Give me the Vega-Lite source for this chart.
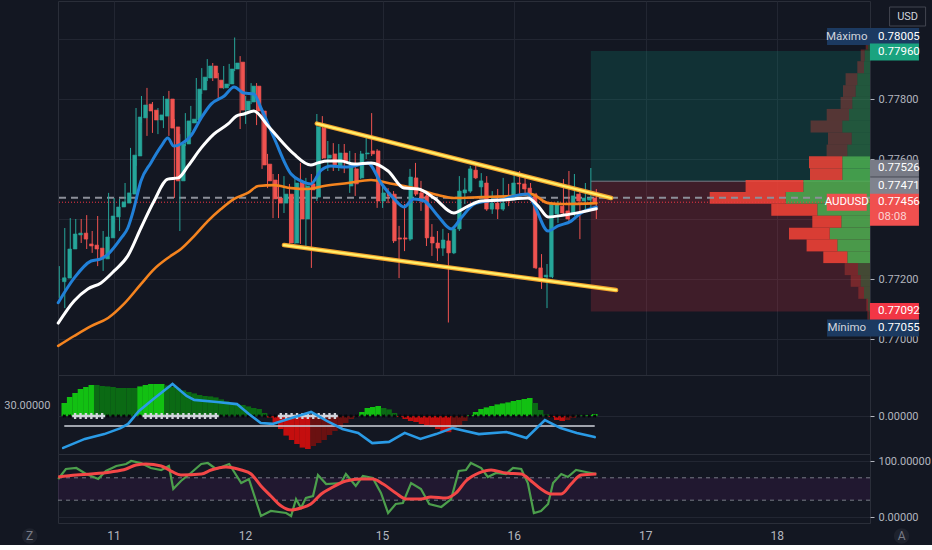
{
"$schema": "https://vega.github.io/schema/vega-lite/v6.json",
"background": "#131722",
"padding": 0,
"spacing": 0,
"bounds": "flush",
"config": {
 "view": {"stroke": "#2a2e39", "strokeWidth": 1},
 "axis": {"labelFont": "Roboto, Liberation Sans, sans-serif", "labelFontSize": 11, "labelColor": "#b2b5be", "gridColor": "#222632", "gridWidth": 1, "domain": false, "tickColor": "#b2b5be"},
 "text": {"font": "Roboto, Liberation Sans, sans-serif", "fontSize": 11.5},
 "concat": {"spacing": 0}
},
"datasets": {
 "candles": [
{"i":0,"o":0.77191,"h":0.77243,"l":0.77137,"c":0.77204},{"i":1,"o":0.77203,"h":0.7737,"l":0.77103,"c":0.773},{"i":2,"o":0.773,"h":0.77403,"l":0.7727,"c":0.7735},{"i":3,"o":0.77347,"h":0.774,"l":0.77317,"c":0.77353},{"i":4,"o":0.77353,"h":0.774,"l":0.7732,"c":0.77333},{"i":5,"o":0.77317,"h":0.77413,"l":0.773,"c":0.7731},{"i":6,"o":0.77313,"h":0.7736,"l":0.77287,"c":0.773},{"i":7,"o":0.77303,"h":0.7741,"l":0.77243,"c":0.77267},{"i":8,"o":0.77267,"h":0.7736,"l":0.77227,"c":0.7734},{"i":9,"o":0.77337,"h":0.77487,"l":0.77333,"c":0.7741},
{"i":10,"o":0.77407,"h":0.7747,"l":0.77387,"c":0.7744},{"i":11,"o":0.7744,"h":0.77467,"l":0.7736,"c":0.77457},{"i":12,"o":0.77453,"h":0.7752,"l":0.77443,"c":0.77487},{"i":13,"o":0.77483,"h":0.77637,"l":0.77477,"c":0.77613},{"i":14,"o":0.7761,"h":0.7777,"l":0.77577,"c":0.7774},{"i":15,"o":0.77737,"h":0.7781,"l":0.7772,"c":0.7778},{"i":16,"o":0.77783,"h":0.77837,"l":0.77677,"c":0.7776},{"i":17,"o":0.77763,"h":0.7779,"l":0.77687,"c":0.7773},{"i":18,"o":0.7773,"h":0.7777,"l":0.77683,"c":0.77747},{"i":19,"o":0.77743,"h":0.7781,"l":0.77703,"c":0.778},
{"i":20,"o":0.778,"h":0.77827,"l":0.77677,"c":0.77703},{"i":21,"o":0.77707,"h":0.77733,"l":0.7747,"c":0.77527},{"i":22,"o":0.77527,"h":0.77683,"l":0.7736,"c":0.7765},{"i":23,"o":0.7765,"h":0.77753,"l":0.77643,"c":0.77727},{"i":24,"o":0.7772,"h":0.77777,"l":0.77693,"c":0.77733},{"i":25,"o":0.7773,"h":0.7787,"l":0.7772,"c":0.77833},{"i":26,"o":0.7783,"h":0.77903,"l":0.77817,"c":0.77873},{"i":27,"o":0.7787,"h":0.77933,"l":0.7786,"c":0.7791},{"i":28,"o":0.7791,"h":0.7792,"l":0.7786,"c":0.7787},{"i":29,"o":0.77863,"h":0.77887,"l":0.77803,"c":0.77837},
{"i":30,"o":0.77837,"h":0.7791,"l":0.77833,"c":0.7785},{"i":31,"o":0.7785,"h":0.77917,"l":0.77843,"c":0.779},{"i":32,"o":0.779,"h":0.78005,"l":0.77893,"c":0.7792},{"i":33,"o":0.77923,"h":0.77943,"l":0.777,"c":0.77763},{"i":34,"o":0.77763,"h":0.7781,"l":0.77717,"c":0.77793},{"i":35,"o":0.7779,"h":0.77853,"l":0.77783,"c":0.77843},{"i":36,"o":0.77843,"h":0.77853,"l":0.77713,"c":0.7776},{"i":37,"o":0.7776,"h":0.77767,"l":0.77567,"c":0.7758},{"i":38,"o":0.77583,"h":0.77617,"l":0.77503,"c":0.77527},{"i":39,"o":0.7753,"h":0.7755,"l":0.77403,"c":0.77467},
{"i":40,"o":0.7747,"h":0.7755,"l":0.77403,"c":0.77453},{"i":41,"o":0.77453,"h":0.77543,"l":0.7742,"c":0.77483},{"i":42,"o":0.77483,"h":0.77517,"l":0.7731,"c":0.7732},{"i":43,"o":0.7732,"h":0.77533,"l":0.77317,"c":0.7752},{"i":44,"o":0.7752,"h":0.77587,"l":0.77317,"c":0.774},{"i":45,"o":0.774,"h":0.77537,"l":0.7731,"c":0.7751},{"i":46,"o":0.77517,"h":0.7755,"l":0.77237,"c":0.77497},{"i":47,"o":0.77473,"h":0.7775,"l":0.7746,"c":0.77707},{"i":48,"o":0.77703,"h":0.77743,"l":0.776,"c":0.77603},{"i":49,"o":0.77603,"h":0.7766,"l":0.7756,"c":0.77613},
{"i":50,"o":0.77617,"h":0.77653,"l":0.7756,"c":0.77577},{"i":51,"o":0.77577,"h":0.7765,"l":0.7756,"c":0.7762},{"i":52,"o":0.7762,"h":0.7765,"l":0.77553,"c":0.77593},{"i":53,"o":0.7751,"h":0.77627,"l":0.77487,"c":0.77583},{"i":54,"o":0.77567,"h":0.7762,"l":0.77477,"c":0.77517},{"i":55,"o":0.77537,"h":0.77627,"l":0.77533,"c":0.77617},{"i":56,"o":0.77617,"h":0.77683,"l":0.776,"c":0.7762},{"i":57,"o":0.77627,"h":0.77753,"l":0.7761,"c":0.77617},{"i":58,"o":0.77627,"h":0.77633,"l":0.77437,"c":0.7746},{"i":59,"o":0.7746,"h":0.7751,"l":0.77437,"c":0.77487},
{"i":60,"o":0.77487,"h":0.77503,"l":0.77453,"c":0.77477},{"i":61,"o":0.77483,"h":0.77493,"l":0.7732,"c":0.77327},{"i":62,"o":0.77337,"h":0.77377,"l":0.77203,"c":0.77333},{"i":63,"o":0.77337,"h":0.7745,"l":0.77293,"c":0.77333},{"i":64,"o":0.77333,"h":0.77567,"l":0.77327,"c":0.7754},{"i":65,"o":0.77537,"h":0.77587,"l":0.77477,"c":0.77483},{"i":66,"o":0.77487,"h":0.77527,"l":0.77427,"c":0.7747},{"i":67,"o":0.77477,"h":0.77483,"l":0.7731,"c":0.77337},{"i":68,"o":0.7734,"h":0.77383,"l":0.77277,"c":0.7732},{"i":69,"o":0.7732,"h":0.7736,"l":0.7726,"c":0.77303},
{"i":70,"o":0.77303,"h":0.77367,"l":0.77277,"c":0.7733},{"i":71,"o":0.77327,"h":0.77353,"l":0.77055,"c":0.77287},{"i":72,"o":0.77287,"h":0.77377,"l":0.77283,"c":0.77367},{"i":73,"o":0.77367,"h":0.77543,"l":0.7736,"c":0.77493},{"i":74,"o":0.77487,"h":0.77537,"l":0.7745,"c":0.77497},{"i":75,"o":0.77493,"h":0.77577,"l":0.77487,"c":0.77567},{"i":76,"o":0.77563,"h":0.77577,"l":0.77533,"c":0.77537},{"i":77,"o":0.77507,"h":0.77553,"l":0.77477,"c":0.77527},{"i":78,"o":0.7752,"h":0.77543,"l":0.77427,"c":0.77433},{"i":79,"o":0.77433,"h":0.77493,"l":0.77417,"c":0.77453},
{"i":80,"o":0.77453,"h":0.775,"l":0.774,"c":0.77433},{"i":81,"o":0.77433,"h":0.77537,"l":0.77427,"c":0.77453},{"i":82,"o":0.7747,"h":0.77517,"l":0.77443,"c":0.7746},{"i":83,"o":0.77477,"h":0.7755,"l":0.7747,"c":0.7752},{"i":84,"o":0.7752,"h":0.7756,"l":0.77477,"c":0.77517},{"i":85,"o":0.77517,"h":0.7755,"l":0.77477,"c":0.775},{"i":86,"o":0.77503,"h":0.7752,"l":0.7747,"c":0.77483},{"i":87,"o":0.77483,"h":0.77487,"l":0.77233,"c":0.77237},{"i":88,"o":0.77237,"h":0.77283,"l":0.77167,"c":0.77203},{"i":89,"o":0.77207,"h":0.7725,"l":0.77103,"c":0.77213},
{"i":90,"o":0.77207,"h":0.77453,"l":0.77203,"c":0.7745},{"i":91,"o":0.77417,"h":0.7746,"l":0.77387,"c":0.7745},{"i":92,"o":0.77443,"h":0.77533,"l":0.7741,"c":0.7742},{"i":93,"o":0.77427,"h":0.7756,"l":0.77387,"c":0.774},{"i":94,"o":0.7742,"h":0.7755,"l":0.7741,"c":0.77477},{"i":95,"o":0.77483,"h":0.775,"l":0.77333,"c":0.7746},{"i":96,"o":0.7746,"h":0.7752,"l":0.77427,"c":0.7747},{"i":97,"o":0.77463,"h":0.7757,"l":0.77427,"c":0.7747},{"i":98,"o":0.7747,"h":0.775,"l":0.774,"c":0.77456}
 ],
 "ema": [
{"s":"fast","i":-0.2,"p":0.77121},{"s":"fast","i":2.7,"p":0.77203},{"s":"fast","i":5.8,"p":0.7726},{"s":"fast","i":7.6,"p":0.77267},{"s":"fast","i":8.9,"p":0.77283},{"s":"fast","i":11.3,"p":0.77337},{"s":"fast","i":12.5,"p":0.7737},{"s":"fast","i":13.5,"p":0.77427},{"s":"fast","i":14.9,"p":0.77527},{"s":"fast","i":16.7,"p":0.77587},{"s":"fast","i":18.6,"p":0.77643},{"s":"fast","i":19.8,"p":0.7767},{"s":"fast","i":20.9,"p":0.77643},{"s":"fast","i":22.2,"p":0.7765},{"s":"fast","i":24.0,"p":0.77677},{"s":"fast","i":25.9,"p":0.77737},{"s":"fast","i":27.7,"p":0.77783},{"s":"fast","i":30.1,"p":0.7781},{"s":"fast","i":31.9,"p":0.7784},{"s":"fast","i":33.7,"p":0.7782},{"s":"fast","i":35.5,"p":0.77817},{"s":"fast","i":36.8,"p":0.7777},{"s":"fast","i":39.2,"p":0.7767},{"s":"fast","i":42.3,"p":0.7755},{"s":"fast","i":44.1,"p":0.77527},{"s":"fast","i":45.9,"p":0.77517},{"s":"fast","i":47.8,"p":0.77563},{"s":"fast","i":49.6,"p":0.77577},{"s":"fast","i":52.0,"p":0.77573},{"s":"fast","i":53.8,"p":0.77577},{"s":"fast","i":56.3,"p":0.77587},{"s":"fast","i":58.7,"p":0.7752},{"s":"fast","i":61.1,"p":0.77467},{"s":"fast","i":62.9,"p":0.7744},{"s":"fast","i":64.7,"p":0.77467},{"s":"fast","i":66.6,"p":0.7746},{"s":"fast","i":69.1,"p":0.7741},{"s":"fast","i":71.5,"p":0.77367},{"s":"fast","i":73.3,"p":0.77403},{"s":"fast","i":75.7,"p":0.7745},{"s":"fast","i":78.2,"p":0.7746},{"s":"fast","i":80.6,"p":0.77463},{"s":"fast","i":83.0,"p":0.77477},{"s":"fast","i":85.5,"p":0.77483},{"s":"fast","i":86.6,"p":0.7745},{"s":"fast","i":89.2,"p":0.7736},{"s":"fast","i":91.0,"p":0.77377},{"s":"fast","i":93.4,"p":0.77393},{"s":"fast","i":95.2,"p":0.7742},{"s":"fast","i":98,"p":0.7744},
{"s":"mid","i":-0.2,"p":0.77053},{"s":"mid","i":2.7,"p":0.77127},{"s":"mid","i":5.2,"p":0.77167},{"s":"mid","i":7.6,"p":0.77187},{"s":"mid","i":10.0,"p":0.77227},{"s":"mid","i":12.5,"p":0.77277},{"s":"mid","i":14.9,"p":0.7737},{"s":"mid","i":17.3,"p":0.7746},{"s":"mid","i":19.8,"p":0.77533},{"s":"mid","i":21.7,"p":0.77537},{"s":"mid","i":23.5,"p":0.77577},{"s":"mid","i":25.9,"p":0.77637},{"s":"mid","i":28.2,"p":0.77683},{"s":"mid","i":30.8,"p":0.77717},{"s":"mid","i":32.3,"p":0.77743},{"s":"mid","i":33.7,"p":0.7775},{"s":"mid","i":35.5,"p":0.7776},{"s":"mid","i":38.1,"p":0.7771},{"s":"mid","i":40.5,"p":0.7766},{"s":"mid","i":42.8,"p":0.77617},{"s":"mid","i":45.9,"p":0.7758},{"s":"mid","i":47.2,"p":0.77587},{"s":"mid","i":49.0,"p":0.77593},{"s":"mid","i":51.4,"p":0.77593},{"s":"mid","i":53.8,"p":0.77583},{"s":"mid","i":56.9,"p":0.77587},{"s":"mid","i":60.0,"p":0.7756},{"s":"mid","i":62.9,"p":0.77503},{"s":"mid","i":65.5,"p":0.775},{"s":"mid","i":68.4,"p":0.7747},{"s":"mid","i":72.0,"p":0.7742},{"s":"mid","i":74.6,"p":0.77443},{"s":"mid","i":77.0,"p":0.7746},{"s":"mid","i":80.6,"p":0.77463},{"s":"mid","i":83.0,"p":0.77467},{"s":"mid","i":85.5,"p":0.7747},{"s":"mid","i":87.4,"p":0.77443},{"s":"mid","i":89.2,"p":0.77407},{"s":"mid","i":92.1,"p":0.77413},{"s":"mid","i":95.2,"p":0.77423},{"s":"mid","i":98,"p":0.77434},
{"s":"slow","i":-0.2,"p":0.76977},{"s":"slow","i":2.7,"p":0.7701},{"s":"slow","i":5.8,"p":0.77043},{"s":"slow","i":8.9,"p":0.7707},{"s":"slow","i":11.8,"p":0.77117},{"s":"slow","i":14.9,"p":0.77183},{"s":"slow","i":17.3,"p":0.77233},{"s":"slow","i":19.8,"p":0.7727},{"s":"slow","i":22.2,"p":0.773},{"s":"slow","i":24.6,"p":0.77343},{"s":"slow","i":27.1,"p":0.77393},{"s":"slow","i":29.5,"p":0.77433},{"s":"slow","i":31.9,"p":0.77467},{"s":"slow","i":34.4,"p":0.77487},{"s":"slow","i":36.3,"p":0.7751},{"s":"slow","i":39.2,"p":0.77513},{"s":"slow","i":42.3,"p":0.77503},{"s":"slow","i":45.4,"p":0.775},{"s":"slow","i":48.3,"p":0.7751},{"s":"slow","i":52.7,"p":0.7752},{"s":"slow","i":56.9,"p":0.7753},{"s":"slow","i":60.0,"p":0.7752},{"s":"slow","i":64.7,"p":0.77503},{"s":"slow","i":69.1,"p":0.7748},{"s":"slow","i":72.0,"p":0.7747},{"s":"slow","i":77.0,"p":0.77473},{"s":"slow","i":83.0,"p":0.77477},{"s":"slow","i":86.1,"p":0.77483},{"s":"slow","i":89.2,"p":0.77453},{"s":"slow","i":92.1,"p":0.7745},{"s":"slow","i":98,"p":0.77453}
 ],
 "draw": [
{"id":"upper","i":47.0,"p":0.77718},{"id":"upper","i":100.7,"p":0.7747},
{"id":"lower","i":41.0,"p":0.77313},{"id":"lower","i":101.6,"p":0.77163}
 ],
 "pos": [
{"k":"tp","x0":97.0,"x1":150,"top":0.7796,"bot":0.77526},
{"k":"sl","x0":97.0,"x1":150,"top":0.77526,"bot":0.77092}
 ],
 "vp": [
{"hi":0.78005,"lo":0.77965,"b":20,"t":43,"va":"out"},{"hi":0.77965,"lo":0.77926,"b":53,"t":93,"va":"out"},{"hi":0.77926,"lo":0.77886,"b":60,"t":127,"va":"out"},{"hi":0.77886,"lo":0.77846,"b":127,"t":244,"va":"out"},{"hi":0.77846,"lo":0.77807,"b":143,"t":270,"va":"out"},{"hi":0.77807,"lo":0.77767,"b":177,"t":294,"va":"out"},{"hi":0.77767,"lo":0.77728,"b":210,"t":433,"va":"out"},{"hi":0.77728,"lo":0.77688,"b":277,"t":594,"va":"out"},{"hi":0.77688,"lo":0.77648,"b":183,"t":420,"va":"out"},{"hi":0.77648,"lo":0.77609,"b":227,"t":434,"va":"out"},
{"hi":0.77609,"lo":0.77569,"b":277,"t":610,"va":"in"},{"hi":0.77569,"lo":0.7753,"b":277,"t":600,"va":"in"},{"hi":0.7753,"lo":0.7749,"b":667,"t":1244,"va":"in"},{"hi":0.7749,"lo":0.77451,"b":843,"t":1603,"va":"in"},{"hi":0.77451,"lo":0.77411,"b":527,"t":987,"va":"in"},{"hi":0.77411,"lo":0.77371,"b":287,"t":577,"va":"in"},{"hi":0.77371,"lo":0.77332,"b":403,"t":810,"va":"in"},{"hi":0.77332,"lo":0.77292,"b":327,"t":634,"va":"in"},{"hi":0.77292,"lo":0.77253,"b":227,"t":467,"va":"in"},
{"hi":0.77253,"lo":0.77213,"b":120,"t":253,"va":"out"},{"hi":0.77213,"lo":0.77174,"b":93,"t":193,"va":"out"},{"hi":0.77174,"lo":0.77134,"b":60,"t":117,"va":"out"},{"hi":0.77134,"lo":0.77094,"b":20,"t":37,"va":"out"},{"hi":0.77094,"lo":0.77055,"b":7,"t":27,"va":"out"}
 ],
 "labels": [
{"k":"max","p":0.78005,"v":"0.78005","tag":"Máximo"},
{"k":"tp","p":0.7796,"v":"0.77960"},
{"k":"entry","p":0.77526,"v":"0.77526"},
{"k":"prev","p":0.77471,"v":"0.77471"},
{"k":"last","p":0.77456,"v":"0.77456","tag":"AUDUSD","cd":"08:08"},
{"k":"sl","p":0.77092,"v":"0.77092"},
{"k":"min","p":0.77055,"v":"0.77055","tag":"Mínimo"},
{"k":"unit","v":"USD"}
 ],
 "mom": [
{"i":0,"m":0.00065,"st":"rise","sq":"off"},{"i":1,"m":0.00095,"st":"rise","sq":"off"},{"i":2,"m":0.00115,"st":"rise","sq":"on"},{"i":3,"m":0.00135,"st":"rise","sq":"on"},{"i":4,"m":0.00145,"st":"rise","sq":"on"},{"i":5,"m":0.00155,"st":"rise","sq":"on"},{"i":6,"m":0.00155,"st":"fall","sq":"on"},{"i":7,"m":0.0015,"st":"fall","sq":"on"},{"i":8,"m":0.00148,"st":"fall","sq":"off"},{"i":9,"m":0.00145,"st":"fall","sq":"off"},
{"i":10,"m":0.0014,"st":"fall","sq":"off"},{"i":11,"m":0.0014,"st":"fall","sq":"off"},{"i":12,"m":0.0014,"st":"fall","sq":"off"},{"i":13,"m":0.0014,"st":"fall","sq":"off"},{"i":14,"m":0.00148,"st":"rise","sq":"off"},{"i":15,"m":0.00155,"st":"rise","sq":"on"},{"i":16,"m":0.0016,"st":"rise","sq":"on"},{"i":17,"m":0.0016,"st":"rise","sq":"on"},{"i":18,"m":0.0016,"st":"rise","sq":"on"},{"i":19,"m":0.00153,"st":"fall","sq":"on"},
{"i":20,"m":0.00145,"st":"fall","sq":"on"},{"i":21,"m":0.00138,"st":"fall","sq":"on"},{"i":22,"m":0.00128,"st":"fall","sq":"on"},{"i":23,"m":0.0012,"st":"fall","sq":"on"},{"i":24,"m":0.00113,"st":"fall","sq":"on"},{"i":25,"m":0.00105,"st":"fall","sq":"on"},{"i":26,"m":0.001,"st":"fall","sq":"on"},{"i":27,"m":0.00098,"st":"fall","sq":"on"},{"i":28,"m":0.00093,"st":"fall","sq":"on"},{"i":29,"m":0.00083,"st":"fall","sq":"off"},
{"i":30,"m":0.00073,"st":"fall","sq":"off"},{"i":31,"m":0.00065,"st":"fall","sq":"off"},{"i":32,"m":0.0006,"st":"fall","sq":"off"},{"i":33,"m":0.00055,"st":"fall","sq":"off"},{"i":34,"m":0.00048,"st":"fall","sq":"off"},{"i":35,"m":0.0004,"st":"fall","sq":"off"},{"i":36,"m":0.00035,"st":"fall","sq":"off"},{"i":37,"m":0.00015,"st":"fall","sq":"off"},{"i":38,"m":-0.00008,"st":"drop","sq":"off"},{"i":39,"m":-0.00035,"st":"drop","sq":"off"},
{"i":40,"m":-0.00065,"st":"drop","sq":"on"},{"i":41,"m":-0.00098,"st":"drop","sq":"on"},{"i":42,"m":-0.0012,"st":"drop","sq":"on"},{"i":43,"m":-0.0014,"st":"drop","sq":"on"},{"i":44,"m":-0.00158,"st":"drop","sq":"on"},{"i":45,"m":-0.00165,"st":"drop","sq":"on"},{"i":46,"m":-0.0015,"st":"recover","sq":"on"},{"i":47,"m":-0.00135,"st":"recover","sq":"on"},{"i":48,"m":-0.0012,"st":"recover","sq":"on"},{"i":49,"m":-0.00095,"st":"recover","sq":"on"},
{"i":50,"m":-0.00075,"st":"recover","sq":"on"},{"i":51,"m":-0.00055,"st":"recover","sq":"off"},{"i":52,"m":-0.00035,"st":"recover","sq":"off"},{"i":53,"m":-0.00015,"st":"recover","sq":"off"},{"i":54,"m":-0.00002,"st":"recover","sq":"off"},{"i":55,"m":0.0002,"st":"rise","sq":"off"},{"i":56,"m":0.0004,"st":"rise","sq":"off"},{"i":57,"m":0.00045,"st":"rise","sq":"off"},{"i":58,"m":0.0005,"st":"rise","sq":"off"},{"i":59,"m":0.0004,"st":"fall","sq":"off"},
{"i":60,"m":0.00033,"st":"fall","sq":"off"},{"i":61,"m":0.00015,"st":"fall","sq":"off"},{"i":62,"m":-0.00005,"st":"drop","sq":"off"},{"i":63,"m":-0.00015,"st":"drop","sq":"off"},{"i":64,"m":-0.00025,"st":"drop","sq":"off"},{"i":65,"m":-0.0003,"st":"drop","sq":"off"},{"i":66,"m":-0.0004,"st":"drop","sq":"off"},{"i":67,"m":-0.00048,"st":"drop","sq":"off"},{"i":68,"m":-0.00055,"st":"drop","sq":"off"},{"i":69,"m":-0.00065,"st":"drop","sq":"off"},
{"i":70,"m":-0.0008,"st":"drop","sq":"off"},{"i":71,"m":-0.00081,"st":"drop","sq":"off"},{"i":72,"m":-0.0006,"st":"recover","sq":"off"},{"i":73,"m":-0.00045,"st":"recover","sq":"off"},{"i":74,"m":-0.00025,"st":"recover","sq":"off"},{"i":75,"m":0.00005,"st":"rise","sq":"off"},{"i":76,"m":0.0002,"st":"rise","sq":"off"},{"i":77,"m":0.00035,"st":"rise","sq":"off"},{"i":78,"m":0.00043,"st":"rise","sq":"off"},{"i":79,"m":0.0005,"st":"rise","sq":"off"},
{"i":80,"m":0.00058,"st":"rise","sq":"off"},{"i":81,"m":0.00063,"st":"rise","sq":"off"},{"i":82,"m":0.00068,"st":"rise","sq":"off"},{"i":83,"m":0.00075,"st":"rise","sq":"off"},{"i":84,"m":0.0008,"st":"rise","sq":"off"},{"i":85,"m":0.00085,"st":"rise","sq":"off"},{"i":86,"m":0.0009,"st":"rise","sq":"off"},{"i":87,"m":0.00065,"st":"fall","sq":"off"},{"i":88,"m":0.0003,"st":"fall","sq":"off"},{"i":89,"m":0.00008,"st":"fall","sq":"off"},
{"i":90,"m":-0.00005,"st":"drop","sq":"off"},{"i":91,"m":-0.0002,"st":"drop","sq":"off"},{"i":92,"m":-0.00025,"st":"drop","sq":"off"},{"i":93,"m":-0.0002,"st":"recover","sq":"off"},{"i":94,"m":-0.0001,"st":"recover","sq":"off"},{"i":95,"m":0.00002,"st":"rise","sq":"off"},{"i":96,"m":0.00003,"st":"rise","sq":"off"},{"i":97,"m":0.00005,"st":"rise","sq":"off"},{"i":98,"m":0.0001,"st":"rise","sq":"off"}
 ],
 "adx": [
{"i":-0.2,"v":15.7},{"i":3.8,"v":18.7},{"i":7.4,"v":20.3},{"i":10.4,"v":22.3},{"i":11.8,"v":23.7},{"i":13.8,"v":28},{"i":16.7,"v":32.3},{"i":20,"v":37},{"i":22.6,"v":33},{"i":24,"v":31.7},{"i":28.2,"v":31},{"i":31.9,"v":30.3},{"i":34.1,"v":27},{"i":36.3,"v":24},{"i":38.5,"v":23.7},{"i":41.4,"v":25.3},{"i":45.6,"v":27.7},{"i":48.5,"v":24.7},{"i":51.4,"v":22},{"i":54.3,"v":20.7},{"i":56.9,"v":17.3},{"i":60,"v":17.7},{"i":62.9,"v":20.7},{"i":65.8,"v":18.7},{"i":68.7,"v":20.3},{"i":71.7,"v":22.3},{"i":76.6,"v":20.3},{"i":81.7,"v":21},{"i":85.4,"v":19},{"i":88.8,"v":25},{"i":91.7,"v":22.3},{"i":94.7,"v":20.7},{"i":98,"v":19.3}
 ],
 "adxlvl": [{"v":23,"i0":0,"i1":98}],
 "stoch": [
{"s":"K","i":-0.2,"v":67.9},{"s":"K","i":1.2,"v":85.7},{"s":"K","i":3.1,"v":87.5},{"s":"K","i":4.9,"v":76.8},{"s":"K","i":7.1,"v":67.9},{"s":"K","i":8.5,"v":82.1},{"s":"K","i":10.4,"v":91.1},{"s":"K","i":12.2,"v":94.6},{"s":"K","i":13.1,"v":100},{"s":"K","i":14.9,"v":96.4},{"s":"K","i":16.7,"v":87.5},{"s":"K","i":18.6,"v":83.9},{"s":"K","i":20.0,"v":91.1},{"s":"K","i":20.8,"v":50},{"s":"K","i":22.2,"v":64.3},{"s":"K","i":24.0,"v":78.6},{"s":"K","i":25.9,"v":94.6},{"s":"K","i":27.1,"v":96.4},{"s":"K","i":28.6,"v":85.7},{"s":"K","i":31.0,"v":94.6},{"s":"K","i":33.2,"v":60.7},{"s":"K","i":34.6,"v":67.9},{"s":"K","i":36.8,"v":1.8},{"s":"K","i":38.6,"v":10.7},{"s":"K","i":41.4,"v":7.1},{"s":"K","i":42.3,"v":1.8},{"s":"K","i":43.2,"v":32.1},{"s":"K","i":44.1,"v":16.1},{"s":"K","i":45.0,"v":33.9},{"s":"K","i":46.3,"v":37.5},{"s":"K","i":47.2,"v":75},{"s":"K","i":48.7,"v":58.9},{"s":"K","i":51.4,"v":60.7},{"s":"K","i":52.3,"v":76.8},{"s":"K","i":54.1,"v":55.4},{"s":"K","i":55.4,"v":73.2},{"s":"K","i":57.2,"v":69.6},{"s":"K","i":58.7,"v":42.9},{"s":"K","i":60.0,"v":7.1},{"s":"K","i":61.4,"v":23.2},{"s":"K","i":62.7,"v":25},{"s":"K","i":64.2,"v":60.7},{"s":"K","i":66.0,"v":50},{"s":"K","i":67.5,"v":23.2},{"s":"K","i":69.7,"v":17.9},{"s":"K","i":71.5,"v":32.1},{"s":"K","i":72.9,"v":82.1},{"s":"K","i":74.2,"v":83.9},{"s":"K","i":75.1,"v":96.4},{"s":"K","i":77.0,"v":87.5},{"s":"K","i":78.2,"v":71.4},{"s":"K","i":79.7,"v":78.6},{"s":"K","i":81.5,"v":76.8},{"s":"K","i":82.8,"v":87.5},{"s":"K","i":84.3,"v":85.7},{"s":"K","i":85.5,"v":60.7},{"s":"K","i":86.6,"v":7.1},{"s":"K","i":87.9,"v":10.7},{"s":"K","i":89.2,"v":23.2},{"s":"K","i":90.1,"v":60.7},{"s":"K","i":91.6,"v":76.8},{"s":"K","i":92.8,"v":71.4},{"s":"K","i":94.3,"v":83.9},{"s":"K","i":96.1,"v":80.4},{"s":"K","i":98,"v":76.8},
{"s":"D","i":-0.2,"v":71.4},{"s":"D","i":3.1,"v":75},{"s":"D","i":5.8,"v":76.8},{"s":"D","i":9.4,"v":80.4},{"s":"D","i":12.2,"v":85.7},{"s":"D","i":14.0,"v":92.9},{"s":"D","i":15.8,"v":94.6},{"s":"D","i":18.6,"v":91.1},{"s":"D","i":20.4,"v":82.1},{"s":"D","i":22.2,"v":75},{"s":"D","i":25.9,"v":76.8},{"s":"D","i":27.7,"v":83.9},{"s":"D","i":30.4,"v":89.3},{"s":"D","i":33.2,"v":83.9},{"s":"D","i":35.0,"v":76.8},{"s":"D","i":36.8,"v":55.4},{"s":"D","i":38.6,"v":37.5},{"s":"D","i":40.5,"v":19.6},{"s":"D","i":42.3,"v":12.5},{"s":"D","i":44.1,"v":16.1},{"s":"D","i":45.9,"v":23.2},{"s":"D","i":47.8,"v":41.1},{"s":"D","i":49.6,"v":51.8},{"s":"D","i":52.3,"v":64.3},{"s":"D","i":55.1,"v":67.9},{"s":"D","i":57.2,"v":67.9},{"s":"D","i":59.1,"v":58.9},{"s":"D","i":61.4,"v":42.9},{"s":"D","i":63.3,"v":32.1},{"s":"D","i":66.0,"v":32.1},{"s":"D","i":67.8,"v":35.7},{"s":"D","i":70.6,"v":33.9},{"s":"D","i":72.4,"v":42.9},{"s":"D","i":74.2,"v":64.3},{"s":"D","i":76.6,"v":78.6},{"s":"D","i":78.8,"v":83.9},{"s":"D","i":81.5,"v":78.6},{"s":"D","i":84.3,"v":76.8},{"s":"D","i":86.1,"v":64.3},{"s":"D","i":87.9,"v":50},{"s":"D","i":89.7,"v":41.1},{"s":"D","i":91.6,"v":41.1},{"s":"D","i":93.4,"v":58.9},{"s":"D","i":95.2,"v":75},{"s":"D","i":98,"v":76.8}
 ],
 "stband": [{"lo":30,"hi":70,"i0":-0.237,"i1":147.94}],
 "stlvl": [{"v":70},{"v":30}],
 "days": [{"i":10,"d":"11"},{"i":34,"d":"12"},{"i":59,"d":"15"},{"i":83,"d":"16"},{"i":107,"d":"17"},{"i":131,"d":"18"}],
 "corner": [{"t":"Z"},{"t":"A"}]
},
"vconcat": [
 {
  "width": 812, "height": 374,
  "resolve": {"scale": {"x": "independent"}, "axis": {"x": "independent", "y": "independent"}},
  "layer": [
   {
    "data": {"name": "pos"},
    "mark": {"type": "rect", "clip": true, "opacity": 0.2},
    "encoding": {
     "x": {"field": "x0", "type": "quantitative", "scale": {"domain": [-0.237, 147.94], "nice": false, "zero": false}, "axis": null},
     "x2": {"field": "x1"},
     "y": {"field": "top", "type": "quantitative", "scale": {"domain": [0.7688, 0.781267], "nice": false, "zero": false}, "axis": null},
     "y2": {"field": "bot"},
     "color": {"condition": {"test": "datum.k == 'tp'", "value": "#089981"}, "value": "#f23645"}
    }
   },
   {
    "data": {"name": "pos"},
    "transform": [{"filter": "datum.k == 'sl'"}],
    "mark": {"type": "rule", "clip": true, "color": "#787b86", "strokeWidth": 1},
    "encoding": {
     "x": {"field": "x0", "type": "quantitative", "scale": {"domain": [-0.237, 147.94], "nice": false, "zero": false}, "axis": null},
     "x2": {"field": "x1"},
     "y": {"field": "top", "type": "quantitative", "axis": null}
    }
   },
   {
    "data": {"name": "vp"},
    "mark": {"type": "rect", "color": "#4caf50"},
    "encoding": {
     "x": {"field": "b", "type": "quantitative", "scale": {"domain": [0, 8120], "reverse": true, "nice": false, "zero": false}, "axis": null},
     "x2": {"datum": 0},
     "y": {"field": "lo", "type": "quantitative", "axis": null},
     "y2": {"field": "hi"},
     "opacity": {"field": "va", "type": "nominal", "scale": {"domain": ["in", "out"], "range": [0.85, 0.3]}, "legend": null}
    }
   },
   {
    "data": {"name": "vp"},
    "mark": {"type": "rect", "color": "#f44336"},
    "encoding": {
     "x": {"field": "t", "type": "quantitative", "scale": {"domain": [0, 8120], "reverse": true, "nice": false, "zero": false}, "axis": null},
     "x2": {"field": "b"},
     "y": {"field": "lo", "type": "quantitative", "axis": null},
     "y2": {"field": "hi"},
     "opacity": {"field": "va", "type": "nominal", "legend": null}
    }
   },
   {
    "data": {"name": "labels"},
    "transform": [{"filter": "datum.k == 'prev'"}],
    "mark": {"type": "rule", "color": "#8c8f99", "strokeWidth": 2, "strokeDash": [7, 5]},
    "encoding": {"y": {"field": "p", "type": "quantitative", "axis": {"orient": "right", "values": [0.770, 0.772, 0.774, 0.776, 0.778, 0.780], "format": ".5f", "labelExpr": "(datum.value == 0.774 || datum.value == 0.78) ? '' : datum.label", "grid": true, "ticks": true, "tickSize": 4, "labelPadding": 4, "title": null, "minExtent": 63, "maxExtent": 63}}}
   },
   {
    "data": {"name": "labels"},
    "transform": [{"filter": "datum.k == 'last'"}],
    "mark": {"type": "rule", "color": "#f23645", "strokeWidth": 1, "strokeDash": [1, 2]},
    "encoding": {"y": {"field": "p", "type": "quantitative", "axis": {"orient": "left", "labels": false, "ticks": false, "domain": false, "grid": false, "title": null, "minExtent": 57, "maxExtent": 57}}}
   },
   {
    "data": {"name": "candles"},
    "mark": {"type": "rule", "strokeWidth": 1},
    "encoding": {
     "x": {"field": "i", "type": "quantitative", "scale": {"domain": [-0.237, 147.94], "nice": false, "zero": false}, "axis": {"orient": "bottom", "grid": true, "values": [10,34,59,83,107,131], "labels": false, "ticks": false, "domain": false, "title": null}},
     "y": {"field": "l", "type": "quantitative", "axis": null},
     "y2": {"field": "h"},
     "color": {"condition": {"test": "datum.c >= datum.o", "value": "#26a69a"}, "value": "#ef5350"}
    }
   },
   {
    "data": {"name": "candles"},
    "mark": {"type": "bar", "width": 3.6, "strokeWidth": 0.6},
    "encoding": {
     "x": {"field": "i", "type": "quantitative", "scale": {"domain": [-0.237, 147.94], "nice": false, "zero": false}, "axis": null},
     "y": {"field": "o", "type": "quantitative", "axis": null},
     "y2": {"field": "c"},
     "color": {"condition": {"test": "datum.c >= datum.o", "value": "#26a69a"}, "value": "#ef5350"},
     "stroke": {"condition": {"test": "datum.c >= datum.o", "value": "#26a69a"}, "value": "#ef5350"}
    }
   },
   {
    "data": {"name": "ema"},
    "transform": [{"filter": "datum.s == 'slow'"}],
    "mark": {"type": "line", "color": "#f5841f", "strokeWidth": 2.6, "interpolate": "monotone", "strokeCap": "round"},
    "encoding": {"x": {"field": "i", "type": "quantitative", "scale": {"domain": [-0.237, 147.94], "nice": false, "zero": false}, "axis": null}, "y": {"field": "p", "type": "quantitative", "axis": null}}
   },
   {
    "data": {"name": "ema"},
    "transform": [{"filter": "datum.s == 'fast'"}],
    "mark": {"type": "line", "color": "#2180d8", "strokeWidth": 3, "interpolate": "monotone", "strokeCap": "round"},
    "encoding": {"x": {"field": "i", "type": "quantitative", "scale": {"domain": [-0.237, 147.94], "nice": false, "zero": false}, "axis": null}, "y": {"field": "p", "type": "quantitative", "axis": null}}
   },
   {
    "data": {"name": "ema"},
    "transform": [{"filter": "datum.s == 'mid'"}],
    "mark": {"type": "line", "color": "#ffffff", "strokeWidth": 3, "interpolate": "monotone", "strokeCap": "round"},
    "encoding": {"x": {"field": "i", "type": "quantitative", "scale": {"domain": [-0.237, 147.94], "nice": false, "zero": false}, "axis": null}, "y": {"field": "p", "type": "quantitative", "axis": null}}
   },
   {
    "data": {"name": "draw"},
    "mark": {"type": "line", "color": "#f2a22c", "strokeWidth": 4.5, "strokeCap": "round"},
    "encoding": {"x": {"field": "i", "type": "quantitative", "scale": {"domain": [-0.237, 147.94], "nice": false, "zero": false}, "axis": null}, "y": {"field": "p", "type": "quantitative", "axis": null}, "detail": {"field": "id"}}
   },
   {
    "data": {"name": "draw"},
    "mark": {"type": "line", "color": "#fff06a", "strokeWidth": 2.2, "strokeCap": "round"},
    "encoding": {"x": {"field": "i", "type": "quantitative", "scale": {"domain": [-0.237, 147.94], "nice": false, "zero": false}, "axis": null}, "y": {"field": "p", "type": "quantitative", "axis": null}, "detail": {"field": "id"}}
   },
   {
    "data": {"name": "labels"},
    "transform": [{"filter": "datum.k == 'max'"}],
    "layer": [
     {"mark": {"type": "tick", "orient": "horizontal", "size": 92, "thickness": 17, "color": "#1c3a61", "opacity": 1, "yOffset": -1}, "encoding": {"x": {"datum": 148.5, "type": "quantitative", "scale": {"domain": [-0.237, 147.94], "nice": false, "zero": false}, "axis": null}, "y": {"field": "p", "type": "quantitative", "axis": null}}},
     {"mark": {"type": "text", "align": "center", "baseline": "middle", "color": "#d1d4dc", "dy": -1}, "encoding": {"x": {"datum": 143.7, "type": "quantitative", "axis": null}, "y": {"field": "p", "type": "quantitative", "axis": null}, "text": {"field": "tag"}}},
     {"mark": {"type": "text", "align": "left", "baseline": "middle", "color": "#ffffff", "dy": -1}, "encoding": {"x": {"datum": 149.4, "type": "quantitative", "axis": null}, "y": {"field": "p", "type": "quantitative", "axis": null}, "text": {"field": "v"}}}
    ]
   },
   {
    "data": {"name": "labels"},
    "transform": [{"filter": "datum.k == 'tp'"}],
    "layer": [
     {"mark": {"type": "tick", "orient": "horizontal", "size": 49, "thickness": 17, "color": "#1aa37f", "opacity": 1, "yOffset": 1}, "encoding": {"x": {"datum": 152.4, "type": "quantitative", "scale": {"domain": [-0.237, 147.94], "nice": false, "zero": false}, "axis": null}, "y": {"field": "p", "type": "quantitative", "axis": null}}},
     {"mark": {"type": "text", "align": "left", "baseline": "middle", "color": "#ffffff", "dy": 1}, "encoding": {"x": {"datum": 149.4, "type": "quantitative", "axis": null}, "y": {"field": "p", "type": "quantitative", "axis": null}, "text": {"field": "v"}}}
    ]
   },
   {
    "data": {"name": "labels"},
    "transform": [{"filter": "datum.k == 'entry'"}],
    "layer": [
     {"mark": {"type": "tick", "orient": "horizontal", "size": 49, "thickness": 17, "color": "#787b86", "opacity": 1, "yOffset": -13}, "encoding": {"x": {"datum": 152.4, "type": "quantitative", "scale": {"domain": [-0.237, 147.94], "nice": false, "zero": false}, "axis": null}, "y": {"field": "p", "type": "quantitative", "axis": null}}},
     {"mark": {"type": "text", "align": "left", "baseline": "middle", "color": "#ffffff", "dy": -13}, "encoding": {"x": {"datum": 149.4, "type": "quantitative", "axis": null}, "y": {"field": "p", "type": "quantitative", "axis": null}, "text": {"field": "v"}}}
    ]
   },
   {
    "data": {"name": "labels"},
    "transform": [{"filter": "datum.k == 'prev'"}],
    "layer": [
     {"mark": {"type": "tick", "orient": "horizontal", "size": 49, "thickness": 17, "color": "#80838e", "opacity": 1, "yOffset": -12}, "encoding": {"x": {"datum": 152.4, "type": "quantitative", "scale": {"domain": [-0.237, 147.94], "nice": false, "zero": false}, "axis": null}, "y": {"field": "p", "type": "quantitative", "axis": null}}},
     {"mark": {"type": "text", "align": "left", "baseline": "middle", "color": "#ffffff", "dy": -12}, "encoding": {"x": {"datum": 149.4, "type": "quantitative", "axis": null}, "y": {"field": "p", "type": "quantitative", "axis": null}, "text": {"field": "v"}}}
    ]
   },
   {
    "data": {"name": "labels"},
    "transform": [{"filter": "datum.k == 'last'"}],
    "layer": [
     {"mark": {"type": "tick", "orient": "horizontal", "size": 40, "thickness": 17, "color": "#f0504f", "opacity": 1}, "encoding": {"x": {"datum": 143.7, "type": "quantitative", "scale": {"domain": [-0.237, 147.94], "nice": false, "zero": false}, "axis": null}, "y": {"field": "p", "type": "quantitative", "axis": null}}},
     {"mark": {"type": "tick", "orient": "horizontal", "size": 49, "thickness": 32, "color": "#f0504f", "opacity": 1, "yOffset": 7.5}, "encoding": {"x": {"datum": 152.4, "type": "quantitative", "axis": null}, "y": {"field": "p", "type": "quantitative", "axis": null}}},
     {"mark": {"type": "text", "align": "center", "baseline": "middle", "color": "#ffffff"}, "encoding": {"x": {"datum": 143.7, "type": "quantitative", "axis": null}, "y": {"field": "p", "type": "quantitative", "axis": null}, "text": {"field": "tag"}}},
     {"mark": {"type": "text", "align": "left", "baseline": "middle", "color": "#ffffff"}, "encoding": {"x": {"datum": 149.4, "type": "quantitative", "axis": null}, "y": {"field": "p", "type": "quantitative", "axis": null}, "text": {"field": "v"}}},
     {"mark": {"type": "text", "align": "left", "baseline": "middle", "color": "#fcd3d3", "dy": 15}, "encoding": {"x": {"datum": 149.4, "type": "quantitative", "axis": null}, "y": {"field": "p", "type": "quantitative", "axis": null}, "text": {"field": "cd"}}}
    ]
   },
   {
    "data": {"name": "labels"},
    "transform": [{"filter": "datum.k == 'sl'"}],
    "layer": [
     {"mark": {"type": "tick", "orient": "horizontal", "size": 49, "thickness": 17, "color": "#f23645", "opacity": 1}, "encoding": {"x": {"datum": 152.4, "type": "quantitative", "scale": {"domain": [-0.237, 147.94], "nice": false, "zero": false}, "axis": null}, "y": {"field": "p", "type": "quantitative", "axis": null}}},
     {"mark": {"type": "text", "align": "left", "baseline": "middle", "color": "#ffffff"}, "encoding": {"x": {"datum": 149.4, "type": "quantitative", "axis": null}, "y": {"field": "p", "type": "quantitative", "axis": null}, "text": {"field": "v"}}}
    ]
   },
   {
    "data": {"name": "labels"},
    "transform": [{"filter": "datum.k == 'min'"}],
    "layer": [
     {"mark": {"type": "tick", "orient": "horizontal", "size": 92, "thickness": 17, "color": "#1c3a61", "opacity": 1, "yOffset": 5.5}, "encoding": {"x": {"datum": 148.5, "type": "quantitative", "scale": {"domain": [-0.237, 147.94], "nice": false, "zero": false}, "axis": null}, "y": {"field": "p", "type": "quantitative", "axis": null}}},
     {"mark": {"type": "text", "align": "center", "baseline": "middle", "color": "#d1d4dc", "dy": 5.5}, "encoding": {"x": {"datum": 143.7, "type": "quantitative", "axis": null}, "y": {"field": "p", "type": "quantitative", "axis": null}, "text": {"field": "tag"}}},
     {"mark": {"type": "text", "align": "left", "baseline": "middle", "color": "#ffffff", "dy": 5.5}, "encoding": {"x": {"datum": 149.4, "type": "quantitative", "axis": null}, "y": {"field": "p", "type": "quantitative", "axis": null}, "text": {"field": "v"}}}
    ]
   },
   {
    "data": {"name": "labels"},
    "transform": [{"filter": "datum.k == 'unit'"}],
    "layer": [
     {"mark": {"type": "tick", "orient": "horizontal", "size": 36, "thickness": 19, "fill": "#131722", "stroke": "#434651", "strokeWidth": 1, "opacity": 1}, "encoding": {"x": {"datum": 154.8, "type": "quantitative", "scale": {"domain": [-0.237, 147.94], "nice": false, "zero": false}, "axis": null}, "y": {"datum": 0.78075, "type": "quantitative", "axis": null}}},
     {"mark": {"type": "text", "align": "center", "baseline": "middle", "color": "#d1d4dc", "fontSize": 11}, "encoding": {"x": {"datum": 154.8, "type": "quantitative", "axis": null}, "y": {"datum": 0.78075, "type": "quantitative", "axis": null}, "text": {"field": "v"}}}
    ]
   }
  ]
 },
 {
  "width": 812, "height": 79,
  "resolve": {"scale": {"y": "independent"}, "axis": {"y": "independent"}},
  "layer": [
   {
    "data": {"name": "mom"},
    "mark": {"type": "bar", "width": 5.6},
    "encoding": {
     "x": {"field": "i", "type": "quantitative", "scale": {"domain": [-0.237, 147.94], "nice": false, "zero": false}, "axis": {"orient": "bottom", "grid": true, "values": [10,34,59,83,107,131], "labels": false, "ticks": false, "domain": false, "title": null}},
     "y": {"field": "m", "type": "quantitative", "scale": {"domain": [-0.0019, 0.00205], "nice": false, "zero": false}, "axis": {"orient": "right", "values": [0], "format": ".5f", "grid": true, "ticks": true, "tickSize": 4, "labelPadding": 4, "title": null, "minExtent": 63, "maxExtent": 63}},
     "y2": {"datum": 0},
     "color": {"field": "st", "type": "nominal", "scale": {"domain": ["rise", "fall", "drop", "recover"], "range": ["#12c012", "#0b6a14", "#c40e0e", "#6a1111"]}, "legend": null}
    }
   },
   {
    "data": {"name": "mom"},
    "transform": [{"filter": "datum.sq == 'off'"}],
    "mark": {"type": "point", "shape": "cross", "angle": 45, "filled": true, "size": 14, "color": "#06070a", "opacity": 1},
    "encoding": {"x": {"field": "i", "type": "quantitative", "axis": null}, "y": {"datum": 0, "type": "quantitative", "scale": {"domain": [-0.0019, 0.00205], "nice": false, "zero": false}, "axis": null}}
   },
   {
    "data": {"name": "mom"},
    "transform": [{"filter": "datum.sq == 'on'"}],
    "mark": {"type": "point", "shape": "cross", "filled": true, "size": 34, "color": "#d1d4dc", "opacity": 1},
    "encoding": {"x": {"field": "i", "type": "quantitative", "axis": null}, "y": {"datum": 0, "type": "quantitative", "scale": {"domain": [-0.0019, 0.00205], "nice": false, "zero": false}, "axis": null}}
   },
   {
    "data": {"name": "adxlvl"},
    "mark": {"type": "rule", "color": "#d1d4dc", "strokeWidth": 1.5},
    "encoding": {
     "x": {"field": "i0", "type": "quantitative", "axis": null},
     "x2": {"field": "i1"},
     "y": {"field": "v", "type": "quantitative", "scale": {"domain": [13.667, 40], "nice": false, "zero": false}, "axis": {"orient": "left", "values": [30], "format": ".5f", "grid": false, "ticks": false, "labelPadding": 8, "title": null, "minExtent": 57, "maxExtent": 57}}
    }
   },
   {
    "data": {"name": "adx"},
    "mark": {"type": "line", "color": "#2a9be6", "strokeWidth": 2.6, "strokeCap": "round"},
    "encoding": {"x": {"field": "i", "type": "quantitative", "axis": null}, "y": {"field": "v", "type": "quantitative", "scale": {"domain": [13.667, 40], "nice": false, "zero": false}, "axis": null}}
   }
  ]
 },
 {
  "width": 812, "height": 69,
  "resolve": {"axis": {"y": "independent"}},
  "layer": [
   {
    "data": {"name": "stband"},
    "mark": {"type": "rect", "color": "#9c27b0", "opacity": 0.1},
    "encoding": {
     "x": {"field": "i0", "type": "quantitative", "scale": {"domain": [-0.237, 147.94], "nice": false, "zero": false}, "axis": null},
     "x2": {"field": "i1"},
     "y": {"field": "lo", "type": "quantitative", "scale": {"domain": [-10.714, 112.5], "nice": false, "zero": false}, "axis": null},
     "y2": {"field": "hi"}
    }
   },
   {
    "data": {"name": "stlvl"},
    "mark": {"type": "rule", "color": "#787b86", "strokeWidth": 1, "strokeDash": [4, 4]},
    "encoding": {"y": {"field": "v", "type": "quantitative", "axis": {"orient": "right", "values": [0, 100], "format": ".5f", "grid": true, "ticks": true, "tickSize": 4, "labelPadding": 4, "title": null, "minExtent": 63, "maxExtent": 63}}}
   },
   {
    "data": {"name": "stoch"},
    "transform": [{"filter": "datum.s == 'K'"}],
    "mark": {"type": "line", "color": "#4c9f4c", "strokeWidth": 2.2},
    "encoding": {
     "x": {"field": "i", "type": "quantitative", "axis": {"orient": "bottom", "values": [10,34,59,83,107,131], "labels": false, "grid": true, "ticks": true, "tickSize": 5, "tickColor": "#2a2e39", "domain": false, "title": null}},
     "y": {"field": "v", "type": "quantitative", "axis": null}
    }
   },
   {
    "data": {"name": "stoch"},
    "transform": [{"filter": "datum.s == 'D'"}],
    "mark": {"type": "line", "color": "#f44747", "strokeWidth": 3, "interpolate": "monotone"},
    "encoding": {
     "x": {"field": "i", "type": "quantitative", "axis": null},
     "y": {"field": "v", "type": "quantitative", "axis": {"orient": "left", "labels": false, "ticks": false, "domain": false, "grid": false, "title": null, "minExtent": 57, "maxExtent": 57}}
    }
   },
   {
    "data": {"name": "days"},
    "mark": {"type": "text", "align": "center", "baseline": "middle", "color": "#b2b5be", "fontSize": 12},
    "encoding": {
     "x": {"field": "i", "type": "quantitative", "axis": null},
     "y": {"datum": -33.9, "type": "quantitative", "axis": null},
     "text": {"field": "d"}
    }
   },
   {
    "data": {"name": "corner"},
    "transform": [{"filter": "datum.t == 'Z'"}],
    "layer": [
     {"mark": {"type": "point", "shape": "circle", "filled": true, "size": 240, "color": "#1e222d", "opacity": 1}, "encoding": {"x": {"datum": -5.4, "type": "quantitative", "axis": null}, "y": {"datum": -33.9, "type": "quantitative", "axis": null}}},
     {"mark": {"type": "text", "align": "center", "baseline": "middle", "color": "#787b86", "fontSize": 12}, "encoding": {"x": {"datum": -5.4, "type": "quantitative", "axis": null}, "y": {"datum": -33.9, "type": "quantitative", "axis": null}, "text": {"field": "t"}}}
    ]
   },
   {
    "data": {"name": "corner"},
    "transform": [{"filter": "datum.t == 'A'"}],
    "layer": [
     {"mark": {"type": "point", "shape": "circle", "filled": true, "size": 240, "color": "#1e222d", "opacity": 1}, "encoding": {"x": {"datum": 153.7, "type": "quantitative", "axis": null}, "y": {"datum": -33.9, "type": "quantitative", "axis": null}}},
     {"mark": {"type": "text", "align": "center", "baseline": "middle", "color": "#787b86", "fontSize": 12}, "encoding": {"x": {"datum": 153.7, "type": "quantitative", "axis": null}, "y": {"datum": -33.9, "type": "quantitative", "axis": null}, "text": {"field": "t"}}}
    ]
   }
  ]
 }
]
}
